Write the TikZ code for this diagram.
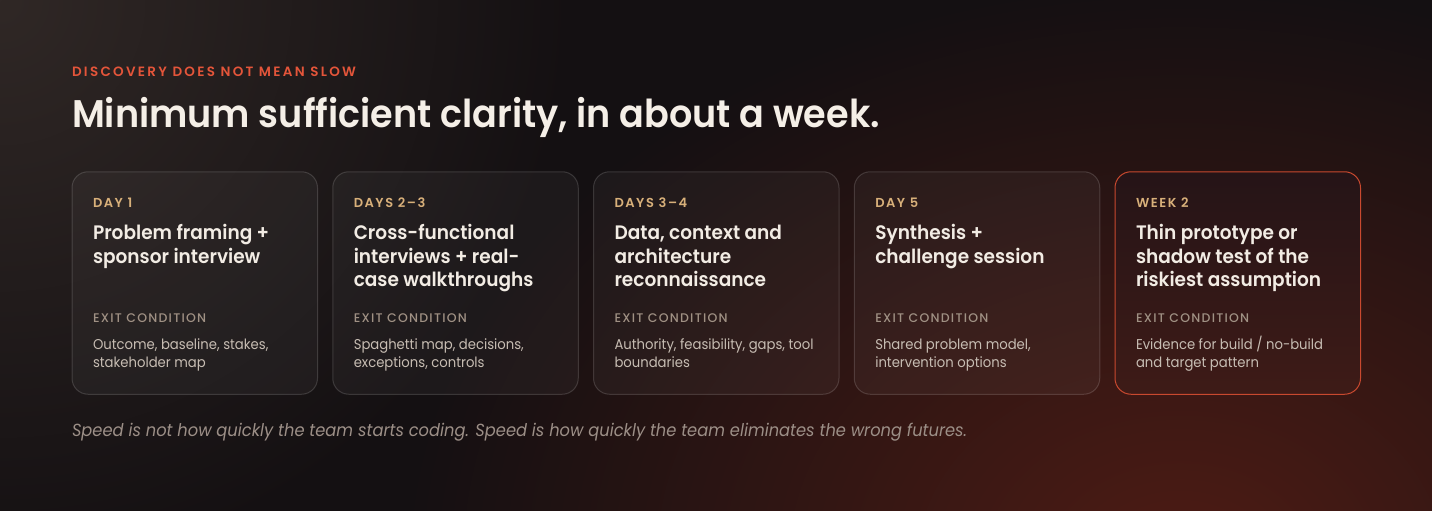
\documentclass[tikz,border=0pt]{standalone}
\usepackage{fontspec}
\setmainfont{Poppins}[FakeStretch=0.93]
\newfontfamily\psemi{Poppins SemiBold}[FakeStretch=0.95]
\newfontfamily\psemiLS{Poppins SemiBold}[LetterSpace=17]
\newfontfamily\plblLS{Poppins SemiBold}[LetterSpace=12]
\newfontfamily\pmedLS{Poppins Medium}[LetterSpace=10]
\usetikzlibrary{fadings}
\tikzfading[name=glowfade, inner color=transparent!0, outer color=transparent!100]
\definecolor{bgc}{HTML}{141012}
\definecolor{glowtl}{HTML}{302826}
\definecolor{glowbr}{HTML}{4E1C15}
\definecolor{headc}{HTML}{E4553A}
\definecolor{titlec}{HTML}{F5EFE7}
\definecolor{goldc}{HTML}{D8B07A}
\definecolor{cardtc}{HTML}{F2ECE4}
\definecolor{exitcol}{HTML}{A09184}
\definecolor{bodyc}{HTML}{C7BDB3}
\definecolor{footc}{HTML}{9C8F87}
\definecolor{hotborder}{HTML}{C9492F}
\definecolor{hottop}{HTML}{251417}
\definecolor{hotbot}{HTML}{3E1B17}
\begin{document}
\begin{tikzpicture}[x=1pt,y=-1pt,
  txt/.style={anchor=base west, inner sep=0pt, outer sep=0pt},
  cardshape/.style={line width=1pt, rounded corners=16pt, minimum width=245.5pt, minimum height=222.5pt, inner sep=0pt},
  card/.style={cardshape, draw=white, draw opacity=0.15, fill=white, fill opacity=0.04},
  hotcard/.style={cardshape, draw=hotborder, top color=hottop, bottom color=hotbot},
  lbl/.style={txt, font=\plblLS\fontsize{13}{13}\selectfont, text=goldc},
  ttl/.style={txt, font=\psemi\fontsize{19.5}{24}\selectfont, text=cardtc},
  exitlbl/.style={txt, font=\pmedLS\fontsize{12.5}{12.5}\selectfont, text=exitcol},
  bodytxt/.style={txt, font=\fontsize{14.2}{18}\selectfont, text=bodyc}]
\useasboundingbox (0,0) rectangle (1432,511);
\fill[bgc] (0,0) rectangle (1432,511);
\begin{scope}
  \clip (0,0) rectangle (1432,511);
  \fill[glowtl, path fading=glowfade] (0,0) circle (580);
  \fill[glowbr, path fading=glowfade] (1180,560) ellipse (780 and 580);
\end{scope}

\node[txt, font=\psemiLS\fontsize{13.5}{13.5}\selectfont, text=headc] (kicker) at (72,76.5) {DISCOVERY DOES NOT MEAN SLOW};
\node[txt, font=\psemi\fontsize{38.5}{40}\selectfont, text=titlec] (title) at (72,127.5) {Minimum sufficient clarity, in about a week.};

\newcommand\mkcard[6]{%
  \pgfmathsetmacro\cx{72+260.75*(#1-1)}
  \node[#6] (card#1) at (\cx+122.75,283) {};
  \node[lbl] (lab#1) at (\cx+21,207) {#2};
  \foreach \t [count=\k] in {#3} {
    \node[ttl] (tt#1-\k) at (\cx+21,239.5+23.5*\k-23.5) {\t};
  }
  \node[exitlbl] (ex#1) at (\cx+21,322) {EXIT CONDITION};
  \node[bodytxt] (bd#1a) at (\cx+21,349) {#4};
  \node[bodytxt] (bd#1b) at (\cx+21,367.5) {#5};
}
\mkcard{1}{DAY 1}{Problem framing +, sponsor interview}{Outcome, baseline, stakes,}{stakeholder map}{card}
\mkcard{2}{DAYS 2–3}{Cross-functional, interviews + real-, case walkthroughs}{Spaghetti map, decisions,}{exceptions, controls}{card}
\mkcard{3}{DAYS 3–4}{{Data, context and}, architecture, reconnaissance}{Authority, feasibility, gaps, tool}{boundaries}{card}
\mkcard{4}{DAY 5}{Synthesis +, challenge session}{Shared problem model,}{intervention options}{card}
\mkcard{5}{WEEK 2}{Thin prototype or, shadow test of the, riskiest assumption}{Evidence for build / no-build}{and target pattern}{hotcard}

\node[txt, font=\itshape\fontsize{17.5}{17.5}\selectfont, text=footc] (foot) at (72,436.5) {Speed is not how quickly the team starts coding. Speed is how quickly the team eliminates the wrong futures.};
\end{tikzpicture}
\end{document}
